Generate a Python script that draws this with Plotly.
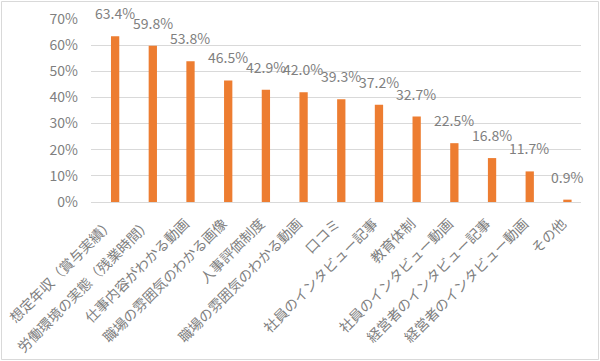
import plotly.graph_objects as go

categories = [
    "想定年収（賞与実績）",
    "労働環境の実態（残業時間）",
    "仕事内容がわかる動画",
    "職場の雰囲気のわかる画像",
    "人事評価制度",
    "職場の雰囲気のわかる動画",
    "口コミ",
    "社員のインタビュー記事",
    "教育体制",
    "社員のインタビュー動画",
    "経営者のインタビュー記事",
    "経営者のインタビュー動画",
    "その他",
]
values = [63.4, 59.8, 53.8, 46.5, 42.9, 42.0, 39.3, 37.2, 32.7, 22.5, 16.8, 11.7, 0.9]
y_ticks = [0, 10, 20, 30, 40, 50, 60, 70]
y_tick_labels = [f"{v}%" for v in y_ticks]

FONT = "Noto Sans CJK JP"
GRAY = "#7f7f7f"
BAR = "#ED7D31"
GRID = "#d9d9d9"

L, R, T, B = 91, 19, 19, 159
W, H = 600, 361
pw, ph = W - L - R, H - T - B

fig = go.Figure(
    go.Bar(
        x=categories,
        y=values,
        marker=dict(color=BAR, line=dict(width=0)),
        width=0.22,
        offset=0.03,
        hoverinfo="x+y",
    )
)

for c, v in zip(categories, values):
    fig.add_annotation(
        x=c, y=v, xref="x", yref="y",
        text=f"{v:.1f}%", showarrow=False,
        xshift=5, yshift=11, yanchor="bottom",
        font=dict(family=FONT, size=14, color=GRAY),
    )

# outer chart border
fig.add_shape(
    type="rect", xref="paper", yref="paper",
    x0=(1.5 - L) / pw, x1=(598.5 - L) / pw,
    y0=(H - B - 359.5) / ph, y1=(H - B - 1.5) / ph,
    line=dict(color=GRID, width=1), fillcolor="rgba(0,0,0,0)",
)

fig.update_layout(
    width=W, height=H,
    margin=dict(l=L, r=R, t=T, b=B, autoexpand=False),
    paper_bgcolor="white", plot_bgcolor="white",
    showlegend=False,
    font=dict(family=FONT, color=GRAY),
)
fig.update_xaxes(
    tickangle=-45,
    tickfont=dict(family=FONT, size=14, color=GRAY),
    showline=True, linecolor=GRID, linewidth=1,
    ticks="", showgrid=False,
    ticklabelstandoff=7,
    range=[-0.5, len(categories) - 0.5],
)
fig.update_yaxes(
    range=[0, 70],
    tickvals=y_ticks, ticktext=y_tick_labels,
    tickfont=dict(family=FONT, size=14, color=GRAY),
    showgrid=True, gridcolor=GRID, gridwidth=1,
    zeroline=True, zerolinecolor=GRID, zerolinewidth=1,
    showline=False, ticks="",
    ticklabelstandoff=12,
)

fig.write_html(
    "out.html",
    config={"displayModeBar": False},
    post_script="document.body.style.margin='0';document.body.style.overflow='hidden';",
)
